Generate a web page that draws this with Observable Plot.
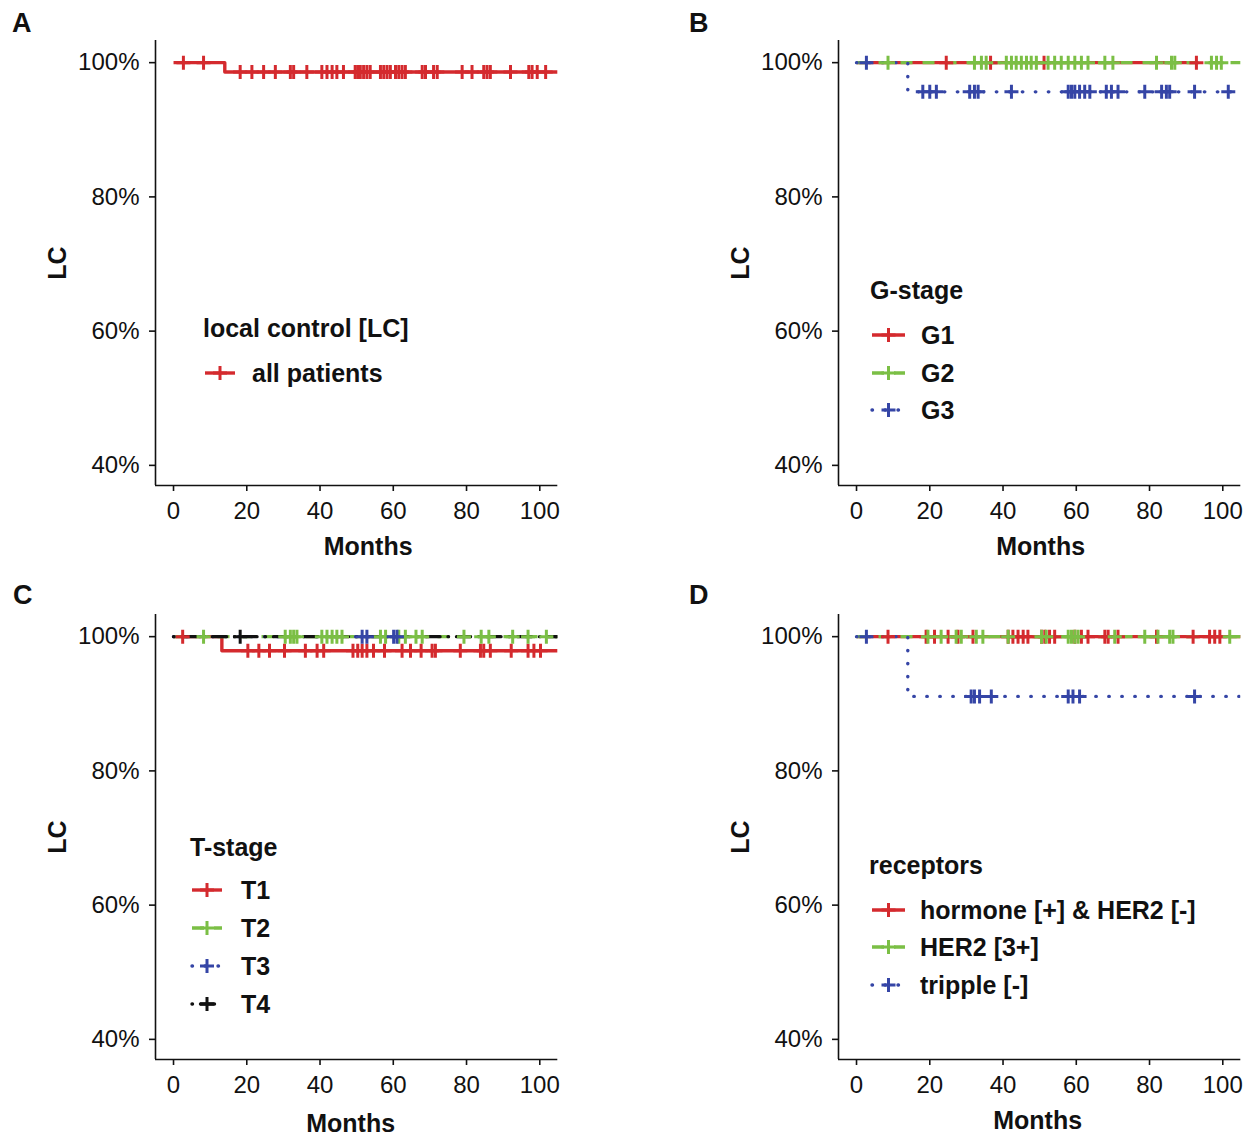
<!DOCTYPE html>
<html><head><meta charset="utf-8">
<script src="https://cdn.jsdelivr.net/npm/d3@7"></script>
<script src="https://cdn.jsdelivr.net/npm/@observablehq/plot@0.6"></script>
<style>
body{margin:0;background:#fff;}
#root{position:relative;width:1253px;height:1136px;overflow:hidden;background:#fff;font-family:"Liberation Sans",Arial,sans-serif;color:#111;}
.panel{position:absolute;width:570px;height:562px;}
.panel svg{position:absolute;left:0;top:0;}
.letter{position:absolute;font-weight:bold;font-size:27px;line-height:1;}
</style></head><body><div id="root"></div>
<script>
// ---------- shared axes ----------
const X_TICKS = [0, 20, 40, 60, 80, 100];
const Y_TICKS = [0.4, 0.6, 0.8, 1.0];
const X_DOMAIN = [-4.92, 104.92];
const Y_DOMAIN = [0.37, 1.033];
const X_LABEL = "Months";
const Y_LABEL = "LC";

// ---------- Panel A ----------
const A_title = "local control [LC]";
const A_names = ["all patients"];
const A_all_t = [0, 14.0, 106];
const A_all_s = [1, 0.986, 0.986];
const A_all_c = [2.7, 8.2, 18.2, 21.4, 24.6, 27.8, 31.9, 32.8, 36.4, 40.5, 41.9, 43.3, 44.6, 46.4, 49.6, 50.3, 51.0, 51.9, 52.8, 53.7, 56.5, 57.4, 58.3, 59.2, 60.6, 61.5, 62.4, 63.3, 67.9, 68.8, 71.0, 72.0, 78.8, 81.5, 84.7, 85.6, 86.5, 92.0, 97.0, 97.9, 99.3, 101.6];

// ---------- Panel B ----------
const B_title = "G-stage";
const B_names = ["G1", "G2", "G3"];
const B_G1_t = [0, 92.8];
const B_G1_s = [1, 1];
const B_G1_c = [24.5, 36.6, 51.2, 92.8];
const B_G2_t = [0, 106];
const B_G2_s = [1, 1];
const B_G2_c = [8.6, 32.2, 34.1, 35.4, 40.9, 42.3, 43.6, 45.0, 46.4, 47.7, 49.1, 52.3, 54.1, 55.9, 57.8, 59.6, 61.4, 63.2, 67.8, 70.0, 81.9, 86.0, 86.9, 96.9, 98.3, 99.6];
const B_G3_t = [0, 14.0, 106];
const B_G3_s = [1, 0.9565, 0.9565];
const B_G3_c = [2.7, 18.1, 20.0, 21.8, 30.9, 32.2, 33.2, 42.3, 57.8, 58.7, 59.6, 60.9, 62.3, 63.7, 68.2, 69.6, 71.4, 78.7, 83.3, 84.6, 85.5, 92.3, 101.5];

// ---------- Panel C ----------
const C_title = "T-stage";
const C_names = ["T1", "T2", "T3", "T4"];
const C_T1_t = [0, 13.2, 106];
const C_T1_s = [1, 0.979, 0.979];
const C_T1_c = [2.5, 20.3, 23.3, 26.2, 30.3, 36.0, 39.2, 41.0, 49.0, 50.3, 51.5, 52.8, 54.6, 57.6, 62.4, 64.7, 67.6, 70.6, 71.5, 78.3, 83.8, 84.7, 86.5, 92.2, 96.8, 98.4, 100.2];
const C_T2_t = [0, 106];
const C_T2_s = [1, 1];
const C_T2_c = [8.2, 30.5, 31.9, 32.8, 33.7, 40.5, 41.9, 43.3, 44.6, 46.0, 56.5, 57.9, 61.5, 63.3, 66.2, 67.9, 79.3, 84.0, 86.1, 92.6, 96.8, 101.8];
const C_T3_t = [0, 61.0];
const C_T3_s = [1, 1];
const C_T3_c = [51.5, 52.8, 60.1, 61.0];
const C_T4_t = [0, 106];
const C_T4_s = [1, 1];
const C_T4_c = [18.2, 106];

// ---------- Panel D ----------
const D_title = "receptors";
const D_names = ["hormone [+] & HER2 [-]", "HER2 [3+]", "tripple [-]"];
const D_hor_t = [0, 106];
const D_hor_s = [1, 1];
const D_hor_c = [8.6, 19.0, 21.3, 25.0, 27.7, 31.8, 41.4, 42.7, 44.1, 45.5, 46.8, 50.5, 51.4, 52.7, 54.1, 59.6, 61.4, 63.2, 67.8, 68.7, 71.4, 81.9, 91.9, 96.4, 97.8, 99.2];
const D_her_t = [0, 106];
const D_her_s = [1, 1];
const D_her_c = [19.5, 23.1, 27.2, 28.6, 32.7, 34.5, 41.4, 50.5, 51.8, 57.8, 58.7, 59.6, 60.5, 70.5, 78.7, 82.3, 85.5, 86.4, 101.9];
const D_tri_t = [0, 14.0, 106];
const D_tri_s = [1, 0.911, 0.911];
const D_tri_c = [2.7, 31.3, 32.2, 33.6, 36.8, 57.8, 59.1, 60.9, 92.3];

// ---------- styles ----------
const RED = "#D42A2E", GREEN = "#7BBF45", BLUE = "#3545A6", BLACK = "#111111";
const SOLID = "none", DASHED = "12 10", DOTTED = "0.5 12.5", DOTDASH = "0.5 8 14 8";

const plusSymbol = {
  draw(ctx, size) {
    const r = Math.sqrt(size / Math.PI);
    ctx.moveTo(-r, 0); ctx.lineTo(r, 0);
    ctx.moveTo(0, -r); ctx.lineTo(0, r);
  }
};

function survAt(t, s, x) { let v = s[0]; for (let i = 0; i < t.length; i++) if (t[i] <= x) v = s[i]; return v; }

function panel(root, cfg) {
  const div = document.createElement("div");
  div.className = "panel";
  div.style.left = cfg.left + "px"; div.style.top = cfg.top + "px";
  root.appendChild(div);
  const lines = [], dots = [];
  cfg.strata.forEach(st => {
    const steps = st.t.map((t, i) => ({t, s: st.s[i]}));
    const cens = st.c.map(t => ({t, s: survAt(st.t, st.s, t)}));
    lines.push(Plot.line(steps, {x: "t", y: "s", curve: "step-after", stroke: st.color, strokeWidth: 3.4,
      strokeDasharray: st.dash, strokeLinecap: st.dash === DOTTED || st.dash === DOTDASH ? "round" : "butt", clip: true}));
    dots.push(Plot.dot(cens, {x: "t", y: "s", symbol: plusSymbol, r: 7, stroke: st.color, strokeWidth: 3, fill: "none", clip: true}));
  });
  const plot = Plot.plot({
    width: 570, height: 562, marginLeft: 155, marginRight: 12.7, marginTop: 40, marginBottom: 77,
    style: {fontFamily: "'Liberation Sans', Arial, sans-serif", background: "transparent", color: "#111", overflow: "visible"},
    x: {domain: X_DOMAIN},
    y: {domain: Y_DOMAIN},
    marks: [
      ...lines, ...dots,
      Plot.axisX({ticks: X_TICKS, tickSize: 6, tickPadding: 10, fontSize: 24, strokeWidth: 1.6, label: null}),
      Plot.axisY({ticks: Y_TICKS, tickSize: 6, tickPadding: 10, fontSize: 24, strokeWidth: 1.6, label: null,
        tickFormat: d => Math.round(d * 100) + "%"}),
      Plot.ruleX([X_DOMAIN[0]], {stroke: "#111", strokeWidth: 1.6}),
      Plot.ruleY([Y_DOMAIN[0]], {stroke: "#111", strokeWidth: 1.6}),
      Plot.text([X_LABEL], {frameAnchor: "bottom", lineAnchor: "middle", textAnchor: "middle", dx: cfg.xlabDx, dy: cfg.xlabDy, fontSize: 25, fontWeight: "bold", fill: "#111"}),
      Plot.text([Y_LABEL], {frameAnchor: "left", lineAnchor: "middle", textAnchor: "middle", rotate: -90, dx: -98, fontSize: 25, fontWeight: "bold", fill: "#111"})
    ]
  });
  div.appendChild(plot);
  // legend
  const L = cfg.legend;
  const svg = d3.select(div).append("svg").attr("width", 570).attr("height", 562)
    .style("overflow", "visible").attr("font-family", "'Liberation Sans', Arial, sans-serif");
  svg.append("text").attr("x", L.titleX).attr("y", L.titleY).attr("dominant-baseline", "central")
    .attr("font-weight", "bold").attr("font-size", 25).attr("fill", "#111").text(L.title);
  cfg.strata.forEach((st, i) => {
    const y = L.rowY[i];
    svg.append("line").attr("x1", L.keyX0).attr("x2", L.keyX1).attr("y1", y).attr("y2", y)
      .attr("stroke", st.color).attr("stroke-width", 3.4)
      .attr("stroke-dasharray", st.dash === SOLID ? null : st.dash)
      .attr("stroke-linecap", st.dash === DOTTED || st.dash === DOTDASH ? "round" : "butt");
    const cx = (L.keyX0 + L.keyX1) / 2;
    svg.append("path").attr("d", `M${cx - 7},${y}H${cx + 7}M${cx},${y - 7}V${y + 7}`)
      .attr("stroke", st.color).attr("stroke-width", 3).attr("fill", "none");
    svg.append("text").attr("x", L.labelX).attr("y", y).attr("dominant-baseline", "central")
      .attr("font-weight", "bold").attr("font-size", 25).attr("fill", "#111").text(st.name);
  });
  const letter = document.createElement("div");
  letter.className = "letter";
  letter.textContent = cfg.letter;
  letter.style.left = cfg.letterX + "px"; letter.style.top = cfg.letterY + "px";
  root.appendChild(letter);
}

const root = document.getElementById("root");

panel(root, {
  left: 0, top: 0, letter: "A", letterX: 12, letterY: 10, xlabDx: 11.5, xlabDy: 61,
  strata: [{name: A_names[0], t: A_all_t, s: A_all_s, c: A_all_c, color: RED, dash: SOLID}],
  legend: {title: A_title, titleX: 203, titleY: 328, rowY: [373], keyX0: 205, keyX1: 235, labelX: 252}
});

panel(root, {
  left: 683, top: 0, letter: "B", letterX: 689, letterY: 10, xlabDx: 1, xlabDy: 61,
  strata: [
    {name: B_names[0], t: B_G1_t, s: B_G1_s, c: B_G1_c, color: RED, dash: SOLID},
    {name: B_names[1], t: B_G2_t, s: B_G2_s, c: B_G2_c, color: GREEN, dash: DASHED},
    {name: B_names[2], t: B_G3_t, s: B_G3_s, c: B_G3_c, color: BLUE, dash: DOTTED}
  ],
  legend: {title: B_title, titleX: 187, titleY: 290, rowY: [335, 373, 410], keyX0: 189, keyX1: 222, labelX: 238}
});

panel(root, {
  left: 0, top: 574, letter: "C", letterX: 13, letterY: 582, xlabDx: -6, xlabDy: 64,
  strata: [
    {name: C_names[0], t: C_T1_t, s: C_T1_s, c: C_T1_c, color: RED, dash: SOLID},
    {name: C_names[1], t: C_T2_t, s: C_T2_s, c: C_T2_c, color: GREEN, dash: DASHED},
    {name: C_names[2], t: C_T3_t, s: C_T3_s, c: C_T3_c, color: BLUE, dash: DOTTED},
    {name: C_names[3], t: C_T4_t, s: C_T4_s, c: C_T4_c, color: BLACK, dash: DOTDASH}
  ],
  legend: {title: C_title, titleX: 190, titleY: 273, rowY: [316, 354, 392, 430], keyX0: 192, keyX1: 222, labelX: 241}
});

panel(root, {
  left: 683, top: 574, letter: "D", letterX: 689, letterY: 582, xlabDx: -2, xlabDy: 61,
  strata: [
    {name: D_names[0], t: D_hor_t, s: D_hor_s, c: D_hor_c, color: RED, dash: SOLID},
    {name: D_names[1], t: D_her_t, s: D_her_s, c: D_her_c, color: GREEN, dash: DASHED},
    {name: D_names[2], t: D_tri_t, s: D_tri_s, c: D_tri_c, color: BLUE, dash: DOTTED}
  ],
  legend: {title: D_title, titleX: 186, titleY: 291, rowY: [336, 373, 411], keyX0: 189, keyX1: 222, labelX: 237}
});
</script></body></html>
